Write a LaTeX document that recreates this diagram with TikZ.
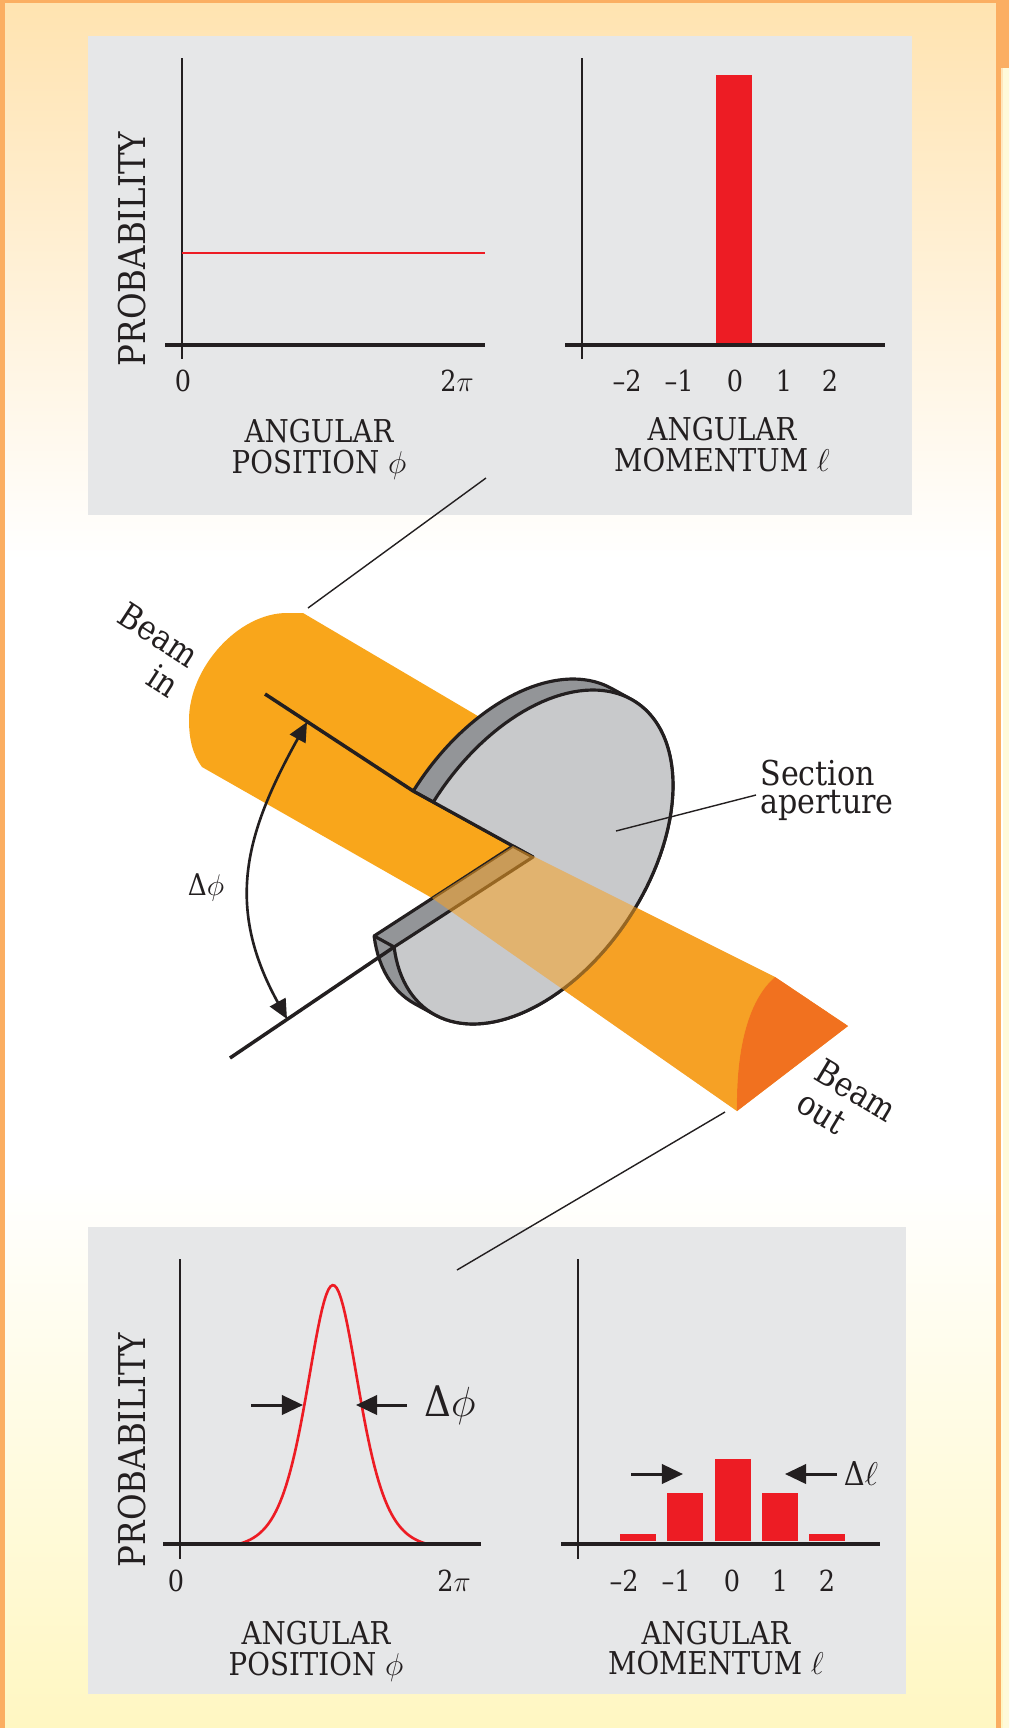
\RequirePackage{fix-cm}
\documentclass[tikz,border=0pt]{standalone}
\usepackage{amsmath}
\usepackage{fontspec}
\setmainfont{DejaVu Serif}[FakeStretch=0.88]
\usepackage{xcolor}
\usepackage{tikz}
\usetikzlibrary{arrows.meta}

\definecolor{peach}{HTML}{FFE3B0}
\definecolor{cream}{HTML}{FFF7C2}
\definecolor{frameorange}{HTML}{FBAE62}
\definecolor{panelgray}{HTML}{E6E7E8}
\definecolor{barred}{HTML}{ED1C24}
\definecolor{beamin}{HTML}{F9A61B}
\definecolor{beamout}{HTML}{F6A125}
\definecolor{beamcap}{HTML}{F1711F}
\definecolor{facegray}{HTML}{C8C9CB}
\definecolor{rimgray}{HTML}{939598}
\definecolor{ink}{HTML}{231F20}

\begin{document}
\begin{tikzpicture}[
        x=0.02cm, y=-0.02cm,
        % Define styles for consistency
        panel/.style={fill=panelgray},
        yaxis/.style={ink, line width=1.4pt},
        xaxis/.style={ink, line width=2pt},
        probbar/.style={fill=barred},
        redcurve/.style={barred, line width=1.5pt},
        leader/.style={ink, line width=0.8pt},
        diskline/.style={ink, line width=1.8pt, line join=round},
        axisline/.style={ink, line width=2pt},
        widtharrow/.style={ink, line width=1.7pt, -{Triangle[length=12pt, width=11pt]}},
        anglearrow/.style={ink, line width=1.5pt, {Triangle[length=11pt, width=10pt]}-{Triangle[length=11pt, width=10pt]}},
        caps/.style={ink, inner sep=0pt, font=\fontsize{17.9}{17.6}\selectfont, align=center},
        probtext/.style={ink, inner sep=0pt, font=\fontsize{21}{22}\selectfont, rotate=90},
        ticklabel/.style={ink, inner sep=0pt, font=\fontsize{16.5}{20}\selectfont},
        word/.style={ink, inner sep=0pt, font=\fontsize{19.5}{16}\selectfont, align=left},
        beamword/.style={ink, inner sep=0pt, font=\fontsize{19.5}{20.5}\selectfont},
        declare function={ex(\t)=533+126.5*cos(\t)+60*sin(\t); ey(\t)=857-167*sin(\t);}
    ]

        \useasboundingbox (0,0) rectangle (1009,1728);

        % --- Background ---
        \shade[top color=peach, bottom color=white] (0,0) rectangle (1009,560);
        \fill[white] (0,560) rectangle (1009,1180);
        \shade[top color=white, bottom color=cream] (0,1180) rectangle (1009,1728);
        \fill[frameorange] (0,0) rectangle (5,1728);
        \fill[frameorange] (0,0) rectangle (1009,3);
        \fill[frameorange] (996,0) rectangle (1001,1728);
        \fill[frameorange] (1001,0) rectangle (1009,68);
        \fill[cream!60] (1003,68) rectangle (1009,1728);

        % Panels
        \fill[panel] (88,36) rectangle (912,515);
        \fill[panel] (88,1227) rectangle (906,1694);

        % --- Coordinates ---
        % Top left plot
        \coordinate (tlYtop) at (182,58);
        \coordinate (tlYbot) at (182,359);
        \coordinate (tlXl) at (165,345);
        \coordinate (tlXr) at (485,345);
        \coordinate (tlFlatl) at (182,253);
        \coordinate (tlFlatr) at (485,253);
        % Top right plot
        \coordinate (trYtop) at (582,58);
        \coordinate (trYbot) at (582,359);
        \coordinate (trXl) at (565,345);
        \coordinate (trXr) at (885,345);
        % Bottom left plot
        \coordinate (blYtop) at (180,1259);
        \coordinate (blYbot) at (180,1559);
        \coordinate (blXl) at (163,1544);
        \coordinate (blXr) at (481,1544);
        \coordinate (blArrLs) at (251,1405);
        \coordinate (blArrLe) at (303,1405);
        \coordinate (blArrRs) at (407,1405);
        \coordinate (blArrRe) at (356,1405);
        % Bottom right plot
        \coordinate (brYtop) at (578,1259);
        \coordinate (brYbot) at (578,1559);
        \coordinate (brXl) at (561,1544);
        \coordinate (brXr) at (880,1544);
        \coordinate (brArrLs) at (631,1474);
        \coordinate (brArrLe) at (683,1474);
        \coordinate (brArrRs) at (837,1474);
        \coordinate (brArrRe) at (785,1474);

        % Callout lines
        \coordinate (calloutTopA) at (486,478);
        \coordinate (calloutTopB) at (308,608);
        \coordinate (calloutBotA) at (725,1112);
        \coordinate (calloutBotB) at (457,1270);
        \coordinate (apertureTip) at (616,831);
        \coordinate (apertureEnd) at (756,795);

        % Beam
        \coordinate (inCap) at (287,613);
        \coordinate (inTop) at (303,613);
        \coordinate (inHid) at (600,788);
        \coordinate (inLow) at (202,767);
        \coordinate (lowE) at (432,898);
        \coordinate (outB) at (775,977);
        \coordinate (outC) at (848,1026);
        \coordinate (outD) at (737,1111);

        % Disk
        \coordinate (fc) at (533,857);
        \coordinate (bc) at (513,846);
        \coordinate (upFront) at ({ex(160.8)},{ey(160.8)});
        \coordinate (upBack) at ({ex(160.8)-20},{ey(160.8)-11});
        \coordinate (lowFront) at ({ex(212.6)},{ey(212.6)});
        \coordinate (lowBack) at ({ex(212.6)-20},{ey(212.6)-11});

        % Sector edges
        \coordinate (axisIn) at (265,694);
        \coordinate (axisOut) at (230,1058);
        \coordinate (angTop) at (307,722);
        \coordinate (angBot) at (287,1019);

        % --- Plots ---
        \draw[yaxis] (tlYtop) -- (tlYbot);
        \draw[xaxis] (tlXl) -- (tlXr);
        \draw[redcurve] (tlFlatl) -- (tlFlatr);

        \fill[probbar] (716,75) rectangle (752,343);
        \draw[yaxis] (trYtop) -- (trYbot);
        \draw[xaxis] (trXl) -- (trXr);

        \draw[redcurve] plot[domain=-95:92, samples=90]
            ({333+\x}, {1544-263.7*(4/(exp(\x/35)+exp(-\x/35))^2-0.018)});
        \draw[yaxis] (blYtop) -- (blYbot);
        \draw[xaxis] (blXl) -- (blXr);
        \draw[widtharrow] (blArrLs) -- (blArrLe);
        \draw[widtharrow] (blArrRs) -- (blArrRe);

        \foreach \xl/\yt in {620/1534, 667/1493, 715/1459, 762/1493, 809/1534}
            \fill[probbar] (\xl,\yt) rectangle ({\xl+36},1541);
        \draw[yaxis] (brYtop) -- (brYbot);
        \draw[xaxis] (brXl) -- (brXr);
        \draw[widtharrow] (brArrLs) -- (brArrLe);
        \draw[widtharrow] (brArrRs) -- (brArrRe);

        % --- Callouts ---
        \draw[leader] (calloutTopA) -- (calloutTopB);
        \draw[leader] (calloutBotA) -- (calloutBotB);

        % --- Beam (behind the aperture) ---
        \fill[beamin] (inTop) -- (inHid) -- (fc) -- (bc) -- (lowE) -- (inLow)
            .. controls (193,755) and (189,740) .. (189,720)
            .. controls (189,668) and (238,613) .. (inCap) -- cycle;
        \fill[beamout] (bc) -- (outB) -- (outC) -- (outD) -- (lowE) -- cycle;
        \fill[beamcap] (outB) -- (outC) -- (outD)
            .. controls (736,1050) and (748,1000) .. (outB) -- cycle;
        \draw[axisline] (axisIn) -- (upBack);

        % --- Aperture ---
        \filldraw[diskline, fill=rimgray]
            plot[domain=70.8:160.8, samples=40] ({ex(\x)-20},{ey(\x)-11}) -- (bc)
            -- plot[domain=212.6:250.8, samples=15] ({ex(\x)-20},{ey(\x)-11})
            -- plot[domain=250.8:430.8, samples=60] ({ex(\x)},{ey(\x)}) -- cycle;
        \filldraw[diskline, fill=facegray]
            plot[domain=212.6:520.8, samples=120] ({ex(\x)},{ey(\x)}) -- (fc) -- cycle;
        \draw[diskline] (bc) -- (fc);
        \draw[diskline] (upBack) -- (upFront);
        \draw[diskline] (lowBack) -- (lowFront);

        % Beam seen through the aperture
        \fill[beamout, fill opacity=0.55] (bc) -- (outB)
            .. controls (748,1000) and (736,1050) .. (outD) -- (lowE) -- cycle;

        % --- Sector edges and angle ---
        \draw[axisline] (axisOut) -- (lowFront);
        \draw[anglearrow] (angTop) .. controls (246,832) and (224,905) .. (angBot);
        \draw[leader] (apertureTip) -- (apertureEnd);

        % --- Labels ---
        \node[probtext] (probTop) at (132,249) {PROBABILITY};
        \node[probtext] (probBot) at (132,1450) {PROBABILITY};
        \node[ticklabel] (tlZero) at (183,381) {0};
        \node[ticklabel] (tlTwoPi) at (457,381) {2$\pi$};
        \node[ticklabel] (blZero) at (176,1581) {0};
        \node[ticklabel] (blTwoPi) at (454,1581) {2$\pi$};
        \foreach \px/\lab [count=\i] in {627/\textendash2, 679/\textendash1, 735/0, 784/1, 830/2}
            \node[ticklabel] (trTick\i) at (\px,381) {\lab};
        \foreach \px/\lab [count=\i] in {624/\textendash2, 676/\textendash1, 732/0, 780/1, 827/2}
            \node[ticklabel] (brTick\i) at (\px,1581) {\lab};
        \node[caps] (tlTitle) at (319,449) {ANGULAR\\POSITION $\phi$};
        \node[caps] (trTitle) at (722,445) {ANGULAR\\MOMENTUM $\ell$};
        \node[caps] (blTitle) at (316,1651) {ANGULAR\\POSITION $\phi$};
        \node[caps] (brTitle) at (716,1648) {ANGULAR\\MOMENTUM $\ell$};
        \node[ink, inner sep=0pt, font=\fontsize{24}{28}\selectfont] (blDelta) at (450,1405) {Δ$\phi$};
        \node[ink, inner sep=0pt, font=\fontsize{18.7}{22}\selectfont] (brDelta) at (861,1474) {Δ$\ell$};
        \node[ink, inner sep=0pt, font=\fontsize{17}{20}\selectfont] (midDelta) at (206,888) {Δ$\phi$};
        \node[beamword, align=right, rotate=-33] (beamIn) at (149,650) {Beam\\in};
        \node[beamword, align=left, rotate=-31] (beamOut) at (847,1106) {Beam\\out};
        \node[word, anchor=west] (sectionLabel) at (760,790) {Section\\aperture};

    \end{tikzpicture}
\end{document}
